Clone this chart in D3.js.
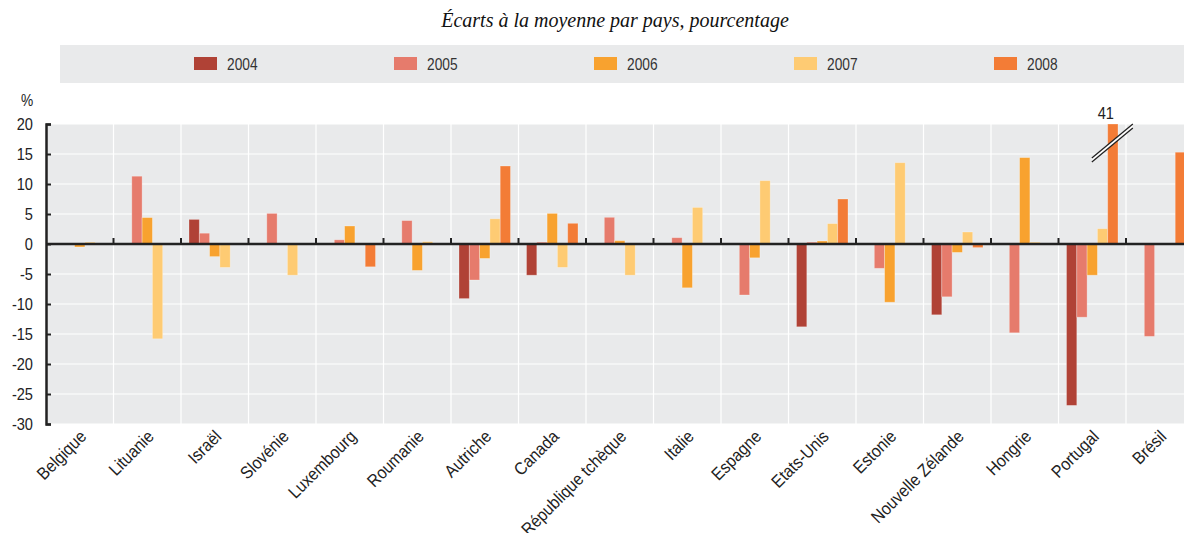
<!DOCTYPE html>
<html>
<head>
<meta charset="utf-8">
<script src="https://cdn.jsdelivr.net/npm/d3@7"></script>
<style>
  body { margin: 0; background: #fff; overflow: hidden; }
  text { font-family: "Liberation Sans Narrow", "Arial Narrow", "Liberation Sans", sans-serif; fill: #222; }
</style>
</head>
<body>
<script>
const countries = ['Belgique', 'Lituanie', 'Israël', 'Slovénie', 'Luxembourg', 'Roumanie', 'Autriche',
  'Canada', 'République tchèque', 'Italie', 'Espagne', 'Etats-Unis', 'Estonie', 'Nouvelle Zélande',
  'Hongrie', 'Portugal', 'Brésil'];
const years = ['2004', '2005', '2006', '2007', '2008'];

// valeurs par pays (null = pas de barre)
const v2004 = [null, null, 4.1, null, null, null, -9.1, -5.2, null, null, null, -13.8, null, -11.8, null, -26.9, null];
const v2005 = [null, 11.3, 1.8, 5.1, 0.7, 3.9, -6.0, 0.3, 4.45, 1.05, -8.5, 0.3, -4.05, -8.8, -14.8, -12.2, -15.4];
const v2006 = [-0.5, 4.4, -2.1, null, 3.0, -4.4, -2.4, 5.1, 0.55, -7.3, -2.3, 0.5, -9.7, -1.4, 14.4, -5.2, null];
const v2007 = [0.3, -15.8, -3.9, -5.2, null, 0.4, 4.2, -3.9, -5.2, 6.1, 10.55, 3.4, 13.55, 2.0, 0.3, 2.55, null];
const v2008 = [null, null, null, null, -3.8, null, 13.0, 3.45, null, null, null, 7.5, null, -0.6, null, 41, 15.3];
const yTicks = [20, 15, 10, 5, 0, -5, -10, -15, -20, -25, -30];

const colors = ['#b04236', '#e67b6c', '#f8a22f', '#fecb73', '#f37c36'];
const series = [v2004, v2005, v2006, v2007, v2008];

// petit remplacement de d3-selection-multi
d3.selection.prototype.attrs = function (o) {
  Object.keys(o).forEach(k => this.attr(k, o[k]));
  return this;
};

const narrow = 0.86; // pas de police étroite, on resserre

const svg = d3.select('body').append('svg')
  .attr('width', 1184)
  .attr('height', 533);

const mLeft = 46, mRight = 1193.5, mTop = 124, mBottom = 424;

const x = d3.scaleBand().domain(countries).range([mLeft, mRight]).padding(0);
const xs = d3.scaleBand().domain(years).range([8, x.bandwidth() - 8]).padding(0);
const y = d3.scaleLinear().domain([-30, 20]).range([mBottom, mTop]);
const color = d3.scaleOrdinal().domain(years).range(colors);

// sous-titre
svg.append('text')
  .attr('x', 615).attr('y', 27)
  .attr('text-anchor', 'middle')
  .style('font-family', '"Liberation Serif", serif')
  .style('font-style', 'italic')
  .style('font-size', '20px')
  .style('fill', '#111')
  .text('Écarts à la moyenne par pays, pourcentage');

// légende
svg.append('rect')
  .attrs({ x: 60, y: 45, width: 1130, height: 38, fill: '#e9eaeb' });
const leg = svg.selectAll('.leg').data(years).enter()
  .append('g')
  .attr('transform', (d, i) => `translate(${194 + i * 200},57)`);
leg.append('rect')
  .attrs({ width: 23, height: 13, fill: d => color(d) });
leg.append('text')
  .attr('transform', `translate(33,13) scale(${narrow},1)`)
  .style('font-size', '16px')
  .style('fill', '#333')
  .text(d => d);

// zone du graphique
svg.append('rect')
  .attrs({ x: mLeft, y: mTop, width: mRight - mLeft, height: mBottom - mTop, fill: '#e9eaeb' });

svg.selectAll('.hgrid').data(yTicks).enter()
  .append('line')
  .attrs({ x1: mLeft, x2: mRight, y1: d => y(d), y2: d => y(d), stroke: '#fff', 'stroke-width': 1.2 });

svg.selectAll('.vgrid').data(countries.slice(1)).enter()
  .append('line')
  .attrs({ x1: d => x(d), x2: d => x(d), y1: mTop, y2: mBottom, stroke: '#fff', 'stroke-width': 1.2 });

// barres
const bars = [];
series.forEach((s, k) => {
  s.forEach((v, i) => {
    if (v !== null) bars.push({ country: countries[i], year: years[k], value: v });
  });
});

svg.selectAll('.bar').data(bars).enter()
  .append('rect')
  .attrs({
    x: d => x(d.country) + xs(d.year),
    width: xs.bandwidth(),
    y: d => y(Math.min(Math.max(d.value, 0), 20)),
    height: d => Math.abs(y(Math.min(d.value, 20)) - y(0)),
    fill: d => color(d.year),
    stroke: 'rgba(255,255,255,0.35)',
    'stroke-width': 0.8
  });

// axe vertical
const yAxis = svg.append('g')
  .attr('transform', `translate(${mLeft},0)`)
  .call(d3.axisLeft(y).tickValues(yTicks).tickSize(-5).tickFormat(d => String(d)));
yAxis.select('.domain').attr('stroke', '#222').attr('stroke-width', 2.5);
yAxis.selectAll('.tick line').attr('stroke', '#222').attr('stroke-width', 2);
yAxis.selectAll('.tick text')
  .attr('x', null)
  .attr('transform', `translate(-13,0) scale(${narrow},1)`)
  .style('font-family', '"Liberation Sans Narrow", "Arial Narrow", sans-serif')
  .style('font-size', '17px')
  .style('fill', '#222');

svg.append('text')
  .attr('transform', `translate(27,106) scale(${narrow},1)`)
  .attr('text-anchor', 'middle')
  .style('font-size', '16px')
  .text('%');

// ligne du zéro
svg.append('line')
  .attrs({ x1: mLeft, x2: mRight, y1: y(0), y2: y(0), stroke: '#222', 'stroke-width': 2.5 });
svg.selectAll('.ztick').data(countries.slice(1)).enter()
  .append('line')
  .attrs({ x1: d => x(d), x2: d => x(d), y1: y(0) - 6, y2: y(0), stroke: '#222', 'stroke-width': 2 });

// étiquettes des pays
svg.selectAll('.xlab').data(countries).enter()
  .append('text')
  .attr('transform', d => `translate(${x(d) + x.bandwidth() / 2 - 1},${mBottom + 5}) rotate(-45) scale(0.9,1)`)
  .attr('text-anchor', 'end')
  .attr('dy', '0.7em')
  .style('font-size', '17.5px')
  .text(d => d);

// rupture d'échelle pour le Portugal 2008
const big = bars.filter(d => d.value > 20);
big.forEach(d => {
  const cx = x(d.country) + xs(d.year) + xs.bandwidth() / 2;
  const g = svg.append('g');
  g.append('polygon')
    .attr('points', [[cx - 21, y(15) + 4], [cx + 20, y(19) - 6], [cx + 20, y(19) - 2], [cx - 21, y(15) + 8]].join(' '))
    .attr('fill', '#fff');
  g.append('line')
    .attrs({ x1: cx - 21, y1: y(15) + 4, x2: cx + 20, y2: y(19) - 6, stroke: '#222', 'stroke-width': 1.3 });
  g.append('line')
    .attrs({ x1: cx - 21, y1: y(15) + 8, x2: cx + 20, y2: y(19) - 2, stroke: '#222', 'stroke-width': 1.3 });
  svg.append('text')
    .attr('transform', `translate(${cx - 7},${mTop - 5}) scale(${narrow},1)`)
    .attr('text-anchor', 'middle')
    .style('font-size', '17px')
    .text(d.value);
});
</script>
</body>
</html>
